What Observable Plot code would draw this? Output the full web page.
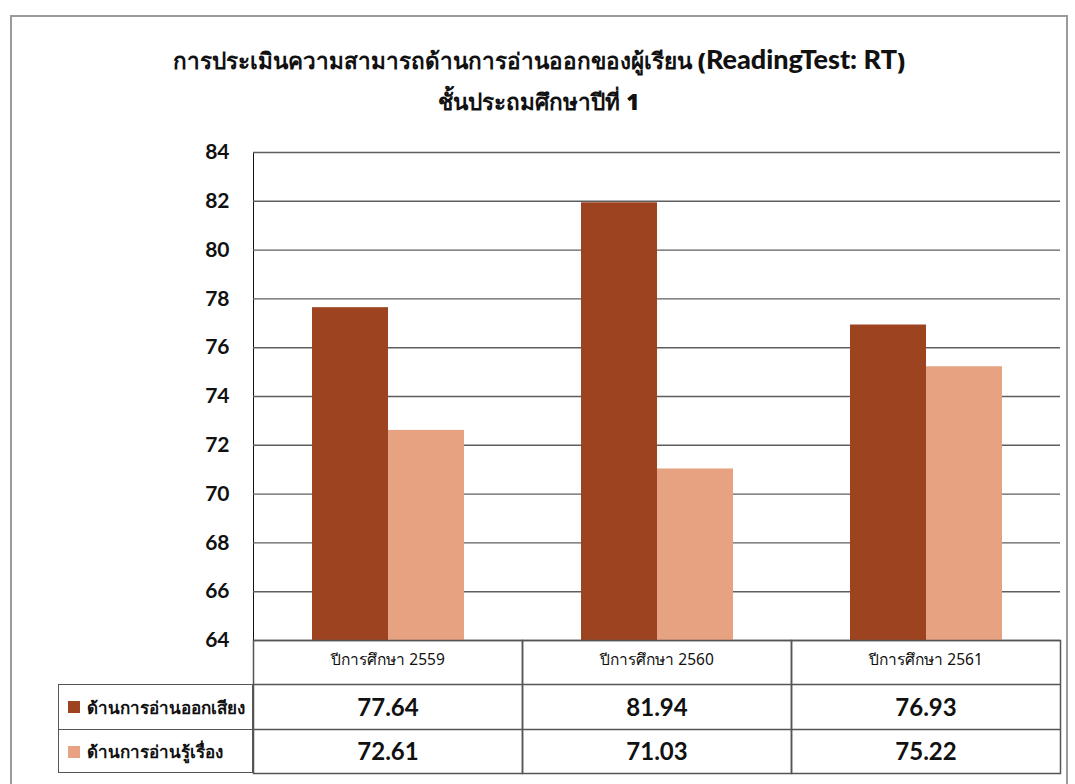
<!DOCTYPE html>
<html><head><meta charset="utf-8">
<script src="https://cdn.jsdelivr.net/npm/d3@7"></script>
<script src="https://cdn.jsdelivr.net/npm/@observablehq/plot@0.6"></script>
<style>
body{margin:0;background:#fff;}
#wrap{position:relative;width:1075px;height:784px;overflow:hidden;background:#fff;}
#border{position:absolute;left:10px;top:15px;width:1058px;height:820px;border:2px solid #9a9a9a;box-sizing:border-box;}
#title{position:absolute;left:10px;width:1058px;top:40px;text-align:center;font-weight:bold;color:#111;line-height:38px;z-index:2;}
#title .th{font-family:"Noto Sans","DejaVu Sans",sans-serif;font-size:22.5px;font-weight:900;}
#title .en{font-family:Lato,"Open Sans",sans-serif;font-size:27px;font-weight:900;}
#chart{position:absolute;left:0;top:120px;}
#legend{position:absolute;left:58px;top:684px;width:195px;height:89px;border:1.5px solid #555;box-sizing:border-box;font-family:"Noto Sans",sans-serif;font-weight:bold;font-size:17px;color:#111;}
#legend .row{height:44px;display:flex;align-items:center;padding-left:9px;box-sizing:border-box;}
#legend .row+.row{border-top:1.5px solid #555;}
#legend .sw{width:12px;height:12px;margin-right:7px;display:inline-block;flex:none;}
</style>
</head><body>
<div id="wrap">
  <div id="border"></div>
  <div id="chart"></div>
  <div id="title">
    <div><span class="th">การประเมินความสามารถด้านการอ่านออกของผู้เรียน (</span><span class="en">ReadingTest: RT</span><span class="th">)</span></div>
    <div><span class="th">ชั้นประถมศึกษาปีที่ 1</span></div>
  </div>
  <div id="legend"></div>
</div>
<script>
const years = ["ปีการศึกษา 2559", "ปีการศึกษา 2560", "ปีการศึกษา 2561"];
const series = ["ด้านการอ่านออกเสียง", "ด้านการอ่านรู้เรื่อง"];
const readAloud = [77.64, 81.94, 76.93];
const readComprehension = [72.61, 71.03, 75.22];
const yTicks = [64, 66, 68, 70, 72, 74, 76, 78, 80, 82, 84];
const colors = ["#9E4320", "#E7A281"];

const data = years.flatMap((y, i) => [
  {year: y, series: series[0], value: readAloud[i]},
  {year: y, series: series[1], value: readComprehension[i]}
]);

const H = 664, mt = 32, mb = 144;
const innerH = H - mt - mb;

const chart = Plot.plot({
  width: 1075, height: H,
  marginTop: mt, marginBottom: mb, marginLeft: 252, marginRight: 15,
  style: {fontFamily: "Lato, 'Open Sans', sans-serif", fontSize: "21px", fontWeight: "bold", color: "#111", background: "transparent"},
  fx: {domain: years, padding: 0, axis: null},
  x: {domain: series, paddingInner: 0, paddingOuter: 0.747, axis: null},
  y: {domain: [64, 84], ticks: yTicks, tickSize: 0, tickPadding: 24, line: true, label: null},
  color: {domain: series, range: colors},
  marks: [
    Plot.ruleY(yTicks, {stroke: "#5e5e5e", strokeWidth: 1.4}),
    Plot.barY(data, {fx: "year", x: "series", y1: 64, y2: "value", fill: "series"}),
    Plot.frame({insetTop: innerH, insetBottom: -133, stroke: "#555", strokeWidth: 1.5}),
    Plot.ruleY([64], {dy: 44, stroke: "#555", strokeWidth: 1.5}),
    Plot.ruleY([64], {dy: 89, stroke: "#555", strokeWidth: 1.5}),
    Plot.text(years, {fx: d => d, text: d => d, frameAnchor: "bottom", dy: 24, fontSize: 15.5, fontWeight: "normal", fontFamily: "'Liberation Sans Narrow','Noto Sans',sans-serif", fill: "#111"}),
    Plot.text(data.filter(d => d.series === series[0]), {fx: "year", text: d => d.value.toFixed(2), frameAnchor: "bottom", dy: 75, fontSize: 24, fontWeight: "bold", fill: "#111"}),
    Plot.text(data.filter(d => d.series === series[1]), {fx: "year", text: d => d.value.toFixed(2), frameAnchor: "bottom", dy: 119, fontSize: 24, fontWeight: "bold", fill: "#111"})
  ]
});
document.getElementById("chart").appendChild(chart);

const legend = document.getElementById("legend");
series.forEach((s, i) => {
  const row = document.createElement("div");
  row.className = "row";
  row.innerHTML = `<span class="sw" style="background:${colors[i]}"></span><span>${s}</span>`;
  legend.appendChild(row);
});
</script>
</body></html>
